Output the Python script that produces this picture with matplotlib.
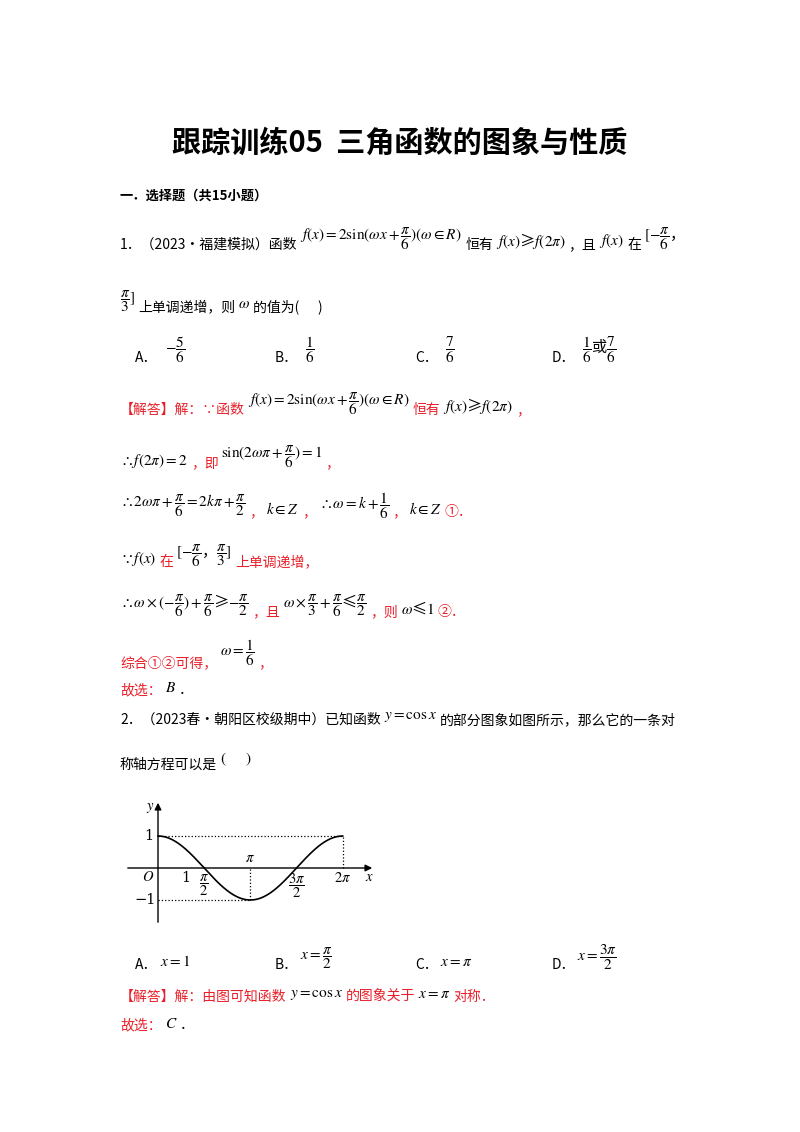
import numpy as np
import matplotlib
matplotlib.use("Agg")
import matplotlib.pyplot as plt

plt.rcParams['font.family'] = ['Noto Sans CJK SC', 'DejaVu Sans']
plt.rcParams['mathtext.fontset'] = 'stix'

RED = '#e8202a'
K = 'black'
fig = plt.figure(figsize=(8, 11.32), dpi=100)
ax = fig.add_axes([0, 0, 1, 1])
ax.set_xlim(0, 800); ax.set_ylim(1132, 0); ax.axis('off')
renderer = fig.canvas.get_renderer()

def t(x, y, s, c=K, size=10, **kw):
    return ax.text(x, y, s, color=c, fontsize=size, va='center', ha='left', **kw)

def line(x, y, segs, gap=3):
    """segs: list of (text, color, size, dy)"""
    for s, c, size, dy in segs:
        tx = t(x, y + dy, s, c, size)
        bb = tx.get_window_extent(renderer)
        x += bb.width + gap

ax.text(400, 143, '跟踪训练05  三角函数的图象与性质', fontsize=21, fontweight='bold', ha='center', va='center')
t(120, 196, '一．选择题（共15小题）', size=9.5, fontweight='bold')

M = 11  # math size
F = -6  # raise for fraction formulas

line(120, 245, [('1．（2023•福建模拟）函数', K, 10, 0),
                (r'$f(x)=2\sin(\omega x+\dfrac{\pi}{6})(\omega\in R)$', K, M, F),
                ('恒有', K, 10, 0),
                (r'$f(x)$≥$f(2\pi)$', K, M, -4),
                ('，且', K, 10, 0),
                (r'$f(x)$', K, M, -4),
                ('在', K, 10, 0),
                (r'$[-\dfrac{\pi}{6}$，', K, M, F)])
line(120, 307, [(r'$\dfrac{\pi}{3}]$', K, M, F),
                ('上单调递增，则', K, 10, 0),
                (r'$\omega$', K, M, -3),
                ('的值为(      )', K, 10, 0)])

opts_x = [135, 275, 415, 552]
opt_labels = ['A．', 'B．', 'C．', 'D．']
opt_vals = [r'$-\dfrac{5}{6}$', r'$\dfrac{1}{6}$', r'$\dfrac{7}{6}$', r'$\dfrac{1}{6}$或$\dfrac{7}{6}$']
for x, l, v in zip(opts_x, opt_labels, opt_vals):
    t(x, 358, l)
    t(x + 30, 350, v, size=M)

line(120, 410, [('【解答】解：∵函数', RED, 10, 0),
                (r'$f(x)=2\sin(\omega x+\dfrac{\pi}{6})(\omega\in R)$', K, M, F),
                ('恒有', RED, 10, 0),
                (r'$f(x)$≥$f(2\pi)$', K, M, -4),
                ('，', RED, 10, 0)])
line(120, 463, [(r'$\therefore f(2\pi)=2$', K, M, -2),
                ('，即', RED, 10, 0),
                (r'$\sin(2\omega\pi+\dfrac{\pi}{6})=1$', K, M, F),
                ('，', RED, 10, 0)])
line(120, 512, [(r'$\therefore 2\omega\pi+\dfrac{\pi}{6}=2k\pi+\dfrac{\pi}{2}$', K, M, F),
                ('，', RED, 10, 0),
                (r'$k\in Z$', K, M, -3),
                ('，', RED, 10, 0),
                (r'$\therefore \omega=k+\dfrac{1}{6}$', K, M, F),
                ('，', RED, 10, 0),
                (r'$k\in Z$', K, M, -3),
                ('①．', RED, 10, 0)])
line(120, 562, [(r'$\because f(x)$', K, M, -3),
                ('在', RED, 10, 0),
                (r'$[-\dfrac{\pi}{6}$，$\dfrac{\pi}{3}]$', K, M, F),
                ('上单调递增，', RED, 10, 0)])
line(120, 612, [(r'$\therefore \omega\times(-\dfrac{\pi}{6})+\dfrac{\pi}{6}$≥$-\dfrac{\pi}{2}$', K, M, F),
                ('，且', RED, 10, 0),
                (r'$\omega\times\dfrac{\pi}{3}+\dfrac{\pi}{6}$≤$\dfrac{\pi}{2}$', K, M, F),
                ('，则', RED, 10, 0),
                (r'$\omega$≤$1$', K, M, -3),
                ('②．', RED, 10, 0)])
line(120, 663, [('综合①②可得，', RED, 10, 0),
                (r'$\omega=\dfrac{1}{6}$', K, M, -10),
                ('，', RED, 10, 0)])
line(120, 690, [('故选：', RED, 10, 0), (r'$B$', K, M, -2), ('．', K, 10, 0)])

line(120, 720, [('2．（2023春•朝阳区校级期中）已知函数', K, 10, 0),
                (r'$y=\cos x$', K, M, -5),
                ('的部分图象如图所示，那么它的一条对', K, 10, 0)])
line(120, 765, [('称轴方程可以是', K, 10, 0), (r'$($      $)$', K, M, -6)])

# inset cos plot
L, R, T, B = 125, 375, 800, 925
ox, oy, sx, sy = 158, 868, 29.4, 32
iax = fig.add_axes([L / 800, (1132 - B) / 1132, (R - L) / 800, (B - T) / 1132])
iax.set_xlim(-(ox - L) / sx, (R - ox) / sx)
iax.set_ylim(-(B - oy) / sy, (oy - T) / sy)
iax.axis('off')
xs = np.linspace(0, 2 * np.pi, 300)
iax.plot(xs, np.cos(xs), color='black', lw=1.2)
xmax = (R - ox) / sx; ymax = (oy - T) / sy
iax.annotate('', xy=(xmax, 0), xytext=(-(ox - L) / sx, 0),
             arrowprops=dict(arrowstyle='-|>', color='black', lw=1))
iax.annotate('', xy=(0, ymax), xytext=(0, -(B - oy) / sy),
             arrowprops=dict(arrowstyle='-|>', color='black', lw=1))
iax.plot([0, 2 * np.pi], [1, 1], ':', color='black', lw=0.9)
iax.plot([2 * np.pi, 2 * np.pi], [0, 1], ':', color='black', lw=0.9)
iax.plot([0, np.pi], [-1, -1], ':', color='black', lw=0.9)
iax.plot([np.pi, np.pi], [-1, 0], ':', color='black', lw=0.9)
kw = dict(fontsize=10.5, ha='center', va='center', fontfamily='DejaVu Serif')
iax.text(-0.25, ymax - 0.25, r'$y$', **kw)
iax.text(xmax - 0.2, -0.28, r'$x$', **kw)
iax.text(-0.3, 1.0, '1', **kw)
iax.text(-0.45, -1.0, '−1', **kw)
iax.text(-0.35, -0.28, r'$O$', **kw)
iax.text(0.95, -0.3, '1', **kw)
iax.text(np.pi / 2, -0.55, r'$\dfrac{\pi}{2}$', **kw)
iax.text(np.pi, 0.3, r'$\pi$', **kw)
iax.text(3 * np.pi / 2, -0.55, r'$\dfrac{3\pi}{2}$', **kw)
iax.text(2 * np.pi, -0.3, r'$2\pi$', **kw)

opt2 = [r'$x=1$', r'$x=\dfrac{\pi}{2}$', r'$x=\pi$', r'$x=\dfrac{3\pi}{2}$']
for x, l, v in zip(opts_x, opt_labels, opt2):
    t(x, 965, l)
    t(x + 25, 958 if 'frac' in v else 962, v, size=M)

line(120, 997, [('【解答】解：由图可知函数', RED, 10, 0),
                (r'$y=\cos x$', K, M, -4),
                ('的图象关于', RED, 10, 0),
                (r'$x=\pi$', K, M, -3),
                ('对称．', RED, 10, 0)])
line(120, 1025, [('故选：', RED, 10, 0), (r'$C$', K, M, -2), ('．', K, 10, 0)])

fig.savefig('out.png', dpi=100)
